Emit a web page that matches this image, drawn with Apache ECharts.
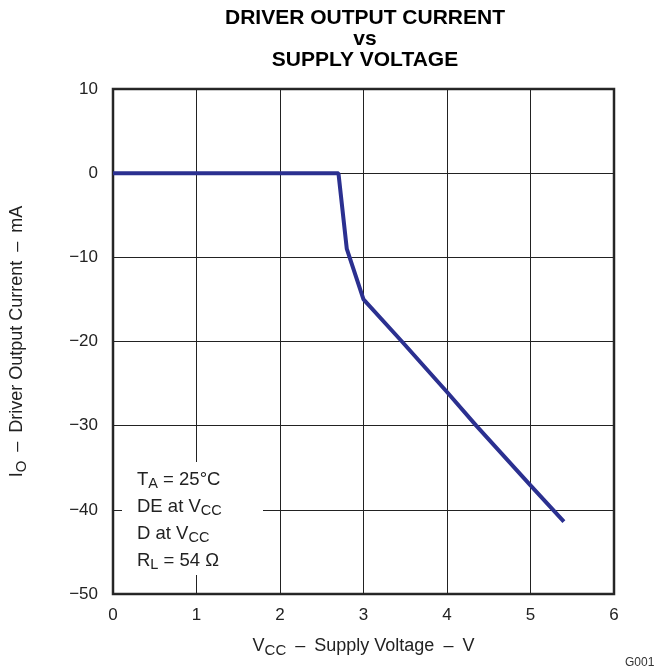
<!DOCTYPE html>
<html><head><meta charset="utf-8">
<script src="https://cdn.jsdelivr.net/npm/echarts@6/dist/echarts.min.js"></script>
<style>html,body{margin:0;padding:0;background:#fff}#c{width:657px;height:670px}</style>
</head><body><div id="c"></div>
<script>
const voltage = [0, 2.7, 2.8, 3.0, 3.46, 4.0, 4.35, 5.0, 5.4];
const current = [0, 0, -9, -15, -20, -26, -30, -37.1, -41.4];
const xTicks = [0, 1, 2, 3, 4, 5, 6];
const yTicks = [-50, -40, -30, -20, -10, 0, 10];
const titleLines = ['DRIVER OUTPUT CURRENT', 'vs', 'SUPPLY VOLTAGE'];
const conditions = ['T{s|A} = 25°C', 'DE at V{s|CC}', 'D at V{s|CC}', 'R{s|L} = 54 Ω'];
const xName = '{n|V}{s|CC}{d| – }{n|Supply Voltage}{d| – }{n|V}';
const yName = '{n|I}{s|O}{d| – }{n|Driver Output Current}{d| – }{n|mA}';

const FONT = '"Liberation Sans", Arial, sans-serif';
const chart = echarts.init(document.getElementById('c'), null, {renderer: 'canvas'});
const subRich = {
  n: {fontFamily: FONT, fontSize: 18, color: '#222'},
  d: {fontFamily: FONT, fontSize: 18, color: '#222', padding: [0, 4, 0, 4]},
  s: {fontFamily: FONT, fontSize: 15, color: '#222', padding: [9, 0, 0, 0]}
};
chart.setOption({
  animation: false,
  title: {
    text: titleLines.join('\n'),
    left: 360, top: 3, textAlign: 'center',
    textStyle: {fontFamily: FONT, fontWeight: 'bold', fontSize: 21, color: '#000', lineHeight: 21}
  },
  grid: {left: 110, right: 43, top: 89, bottom: 76, show: true, borderColor: '#2a2a2a', borderWidth: 2.5, backgroundColor: 'transparent'},
  xAxis: {
    type: 'value', min: xTicks[0], max: xTicks[xTicks.length - 1], interval: 1,
    axisLine: {show: false}, axisTick: {show: false},
    splitLine: {show: true, lineStyle: {color: '#222', width: 1}},
    axisLabel: {fontFamily: FONT, fontSize: 17, color: '#222', margin: 13},
    name: xName, nameLocation: 'middle', nameGap: 40,
    nameTextStyle: {rich: subRich}
  },
  yAxis: {
    type: 'value', min: yTicks[0], max: yTicks[yTicks.length - 1], interval: 10,
    axisLine: {show: false}, axisTick: {show: false},
    splitLine: {show: true, lineStyle: {color: '#222', width: 1}},
    axisLabel: {fontFamily: FONT, fontSize: 17, color: '#222', margin: 15,
      formatter: v => String(v).replace('-', '\u2212')},
    name: yName, nameLocation: 'middle', nameGap: 84,
    nameRotate: 90,
    nameTextStyle: {rich: subRich}
  },
  graphic: [
    {type: 'rect', left: 122, top: 462, shape: {width: 141, height: 113}, style: {fill: '#fff'}, z: 10},
    {type: 'text', left: 137, top: 466, z: 11,
      style: {text: conditions.join('\n'), fontFamily: FONT, fontSize: 18.5, fill: '#222', lineHeight: 27,
        rich: {s: {fontFamily: FONT, fontSize: 14.5, fill: '#222', padding: [9, 0, 0, 0], lineHeight: 27}}}},
    {type: 'text', left: 625, top: 657, style: {text: 'G001', fontFamily: FONT, fontSize: 12, fill: '#333'}}
  ],
  series: [{
    type: 'line', data: voltage.map((v, i) => [v, current[i]]),
    showSymbol: false, lineStyle: {color: '#2b3090', width: 4}, z: 5
  }]
});
</script></body></html>
